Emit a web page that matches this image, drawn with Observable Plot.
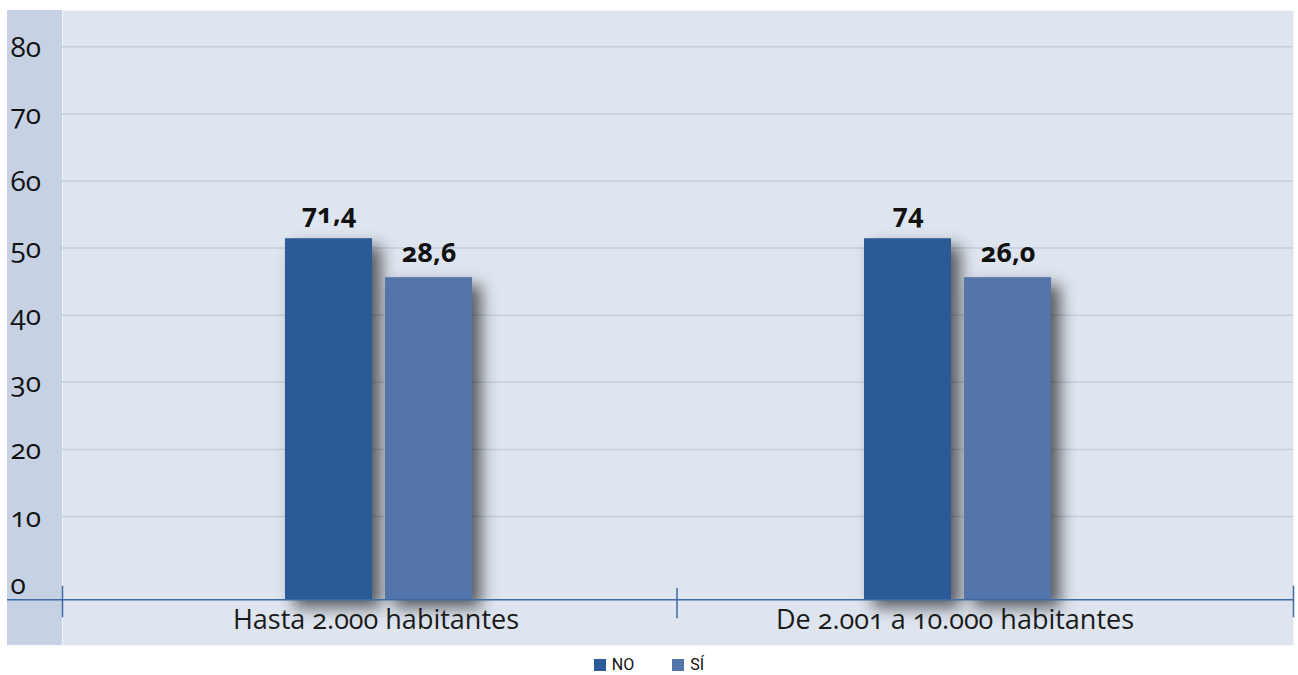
<!DOCTYPE html>
<html>
<head>
<meta charset="utf-8">
<script src="https://cdn.jsdelivr.net/npm/d3@7"></script>
<script src="https://cdn.jsdelivr.net/npm/@observablehq/plot@0.6"></script>
<style>
  body { margin: 0; background: #ffffff; font-family: "Open Sans", "Noto Sans", sans-serif; }
  #wrap { position: relative; width: 1298px; height: 648px; }
  #strip { position: absolute; left: 7px; top: 10px; width: 55px; height: 635px; background: #c6d2e3; }
  #chart { position: absolute; left: 0; top: 0; }
  #chart svg text { font-variant-numeric: oldstyle-nums; }
  #chart svg g[aria-label="category"] text { letter-spacing: 0.7px; }
  #legend { display: flex; justify-content: center; align-items: center; margin-top: 7px;
            font-family: "Roboto", "Liberation Sans", sans-serif; font-size: 16px; color: #111; }
  .sw { display: inline-block; width: 12px; height: 12px; margin-right: 6px; }
  .item { display: inline-flex; align-items: center; margin: 0 19px; }
</style>
</head>
<body>
<div id="wrap"><div id="strip"></div><div id="chart"></div></div>
<div id="legend"></div>
<script>
const categories = ["Hasta 2.000 habitantes", "De 2.001 a 10.000 habitantes"];
const series = ["NO", "SÍ"];
const noHeights = [51.4, 51.4];
const siHeights = [45.6, 45.6];
const noLabels = ["71,4", "74"];
const siLabels = ["28,6", "26,0"];
const yTicks = [0, 10, 20, 30, 40, 50, 60, 70, 80];
const gridTicks = [10, 20, 30, 40, 50, 60, 70, 80];
const yDomain = [-9.2, 85.4];
const baseline = -2.4;
const colors = ["#2b5a98", "#5475aa"];

const noData = categories.map((c, i) => ({cat: c, s: "NO", h: noHeights[i], label: noLabels[i]}));
const siData = categories.map((c, i) => ({cat: c, s: "SÍ", h: siHeights[i], label: siLabels[i]}));

const axisColor = "#3e6aa6";
const sepStyle = {stroke: axisColor, strokeWidth: 1.5, insetTop: 576, insetBottom: 29};

const chart = Plot.plot({
  width: 1298,
  height: 648,
  marginTop: 10,
  marginBottom: 3,
  marginLeft: 62,
  marginRight: 5,
  style: {background: "transparent", fontFamily: "'Open Sans', 'Noto Sans', sans-serif"},
  x: {domain: categories, paddingInner: 0.677, paddingOuter: 0.4015, align: 0.48, axis: null},
  y: {domain: yDomain, axis: null},
  color: {domain: series, range: colors},
  marks: [
    Plot.frame({fill: "#dfe5ef"}),
    Plot.gridY(gridTicks, {stroke: "#c3cde0", strokeOpacity: 1, strokeWidth: 1.5}),
    Plot.axisY(yTicks, {label: null, tickSize: 0, tickPadding: 0, textAnchor: "start", dx: -52, dy: 1,
                        fontSize: 28, fontVariant: "oldstyle-nums", fill: "#111"}),
    Plot.barY(noData, {x: "cat", y1: baseline, y2: "h", fill: "s", insetRight: 100}),
    Plot.barY(siData, {x: "cat", y1: baseline, y2: "h", fill: "s", insetLeft: 100}),
    Plot.ruleY([baseline], {stroke: axisColor, strokeWidth: 1.5, insetLeft: -55}),
    Plot.frame({anchor: "left", ...sepStyle}),
    Plot.frame({anchor: "right", ...sepStyle}),
    Plot.ruleX(categories.slice(1), {x: d => d, y1: -0.7, y2: -5.2, dx: -281, stroke: axisColor, strokeWidth: 1.5}),
    Plot.text(noData, {x: "cat", y: "h", text: "label", dx: -50, dy: -24, fontSize: 27, fontWeight: "bold", fill: "#111"}),
    Plot.text(siData, {x: "cat", y: "h", text: "label", dx: 50, dy: -24, fontSize: 27, fontWeight: "bold", fill: "#111"}),
    Plot.text(categories, {x: d => d, text: d => d, frameAnchor: "bottom", dy: -17, dx: -3, fontSize: 27,
                           fill: "#1a1a1a", ariaLabel: "category"})
  ]
});
document.getElementById("chart").appendChild(chart);
d3.select(chart).selectAll('g[aria-label="bar"] rect')
  .style("filter", "drop-shadow(9px 8px 8px rgba(0,0,0,0.62))");

const legend = document.getElementById("legend");
series.forEach((s, i) => {
  const it = document.createElement("span");
  it.className = "item";
  it.innerHTML = `<span class="sw" style="background:${colors[i]}"></span>${s}`;
  legend.appendChild(it);
});
</script>
</body>
</html>
